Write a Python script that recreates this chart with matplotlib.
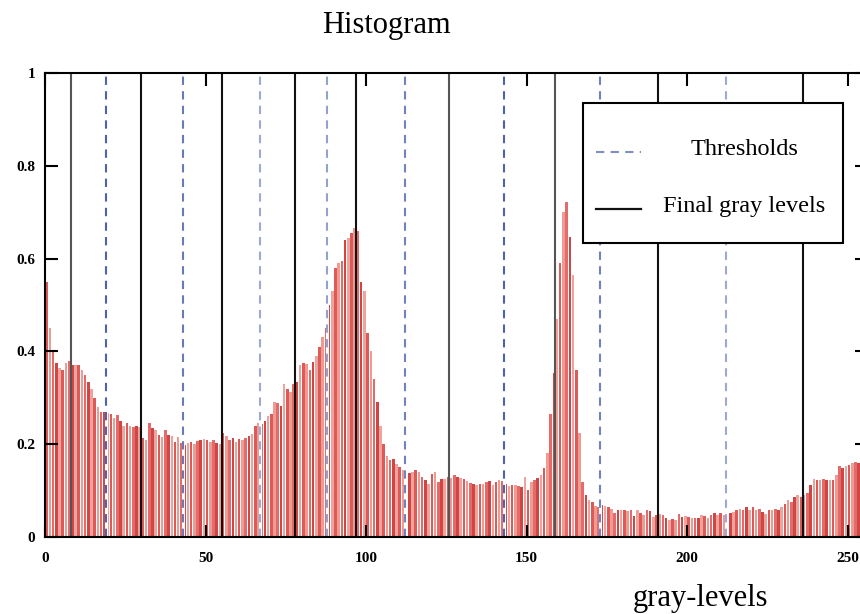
import matplotlib
matplotlib.use("Agg")
import matplotlib.pyplot as plt
from matplotlib.patches import Rectangle
from matplotlib.lines import Line2D
import numpy as np

# ---------------- data ----------------
hist_values = [
    0.55, 0.45, 0.40, 0.375, 0.365, 0.36, 0.375, 0.38, 0.37, 0.37,
    0.37, 0.36, 0.35, 0.335, 0.32, 0.30, 0.28, 0.27, 0.27, 0.268,
    0.265, 0.256, 0.262, 0.25, 0.24, 0.245, 0.24, 0.238, 0.24, 0.236,
    0.213, 0.21, 0.245, 0.234, 0.23, 0.22, 0.216, 0.23, 0.22, 0.217,
    0.205, 0.216, 0.202, 0.198, 0.203, 0.205, 0.20, 0.206, 0.209, 0.212,
    0.208, 0.205, 0.208, 0.203, 0.20, 0.224, 0.217, 0.21, 0.213, 0.204,
    0.212, 0.208, 0.213, 0.217, 0.222, 0.24, 0.245, 0.244, 0.25, 0.26,
    0.265, 0.29, 0.288, 0.283, 0.33, 0.32, 0.312, 0.33, 0.335, 0.37,
    0.375, 0.372, 0.36, 0.378, 0.39, 0.41, 0.43, 0.45, 0.50, 0.53,
    0.58, 0.59, 0.595, 0.64, 0.645, 0.655, 0.665, 0.66, 0.55, 0.53,
    0.44, 0.40, 0.34, 0.29, 0.24, 0.20, 0.175, 0.165, 0.168, 0.158,
    0.15, 0.145, 0.134, 0.138, 0.141, 0.144, 0.14, 0.13, 0.123, 0.115,
    0.135, 0.141, 0.119, 0.124, 0.126, 0.13, 0.128, 0.134, 0.13, 0.127,
    0.124, 0.12, 0.116, 0.114, 0.112, 0.114, 0.114, 0.118, 0.12, 0.113,
    0.118, 0.123, 0.12, 0.115, 0.11, 0.112, 0.113, 0.11, 0.108, 0.13,
    0.102, 0.119, 0.123, 0.128, 0.134, 0.148, 0.18, 0.265, 0.353, 0.47,
    0.59, 0.70, 0.722, 0.647, 0.565, 0.36, 0.225, 0.118, 0.09, 0.08,
    0.075, 0.066, 0.065, 0.068, 0.066, 0.064, 0.06, 0.052, 0.058, 0.059,
    0.058, 0.055, 0.058, 0.046, 0.058, 0.051, 0.048, 0.058, 0.055, 0.044,
    0.047, 0.05, 0.047, 0.04, 0.037, 0.038, 0.037, 0.05, 0.044, 0.045,
    0.044, 0.042, 0.042, 0.04, 0.047, 0.045, 0.04, 0.047, 0.051, 0.047,
    0.051, 0.047, 0.05, 0.051, 0.054, 0.058, 0.061, 0.058, 0.065, 0.058,
    0.065, 0.058, 0.061, 0.054, 0.05, 0.058, 0.058, 0.061, 0.058, 0.065,
    0.072, 0.08, 0.076, 0.087, 0.09, 0.087, 0.09, 0.094, 0.112, 0.126,
    0.122, 0.123, 0.124, 0.123, 0.122, 0.123, 0.134, 0.152, 0.148, 0.152,
    0.155, 0.159, 0.162, 0.16, 0.165, 0.168,
]
gray_levels = list(range(len(hist_values)))

thresholds = [19, 43, 67, 88, 112, 143, 173, 212]
final_levels = [8, 30, 55, 78, 97, 126, 159, 191, 236]

x_ticks = [0, 50, 100, 150, 200, 250]
x_tick_labels = ["0", "50", "100", "150", "200", "250"]
y_ticks = [0, 0.2, 0.4, 0.6, 0.8, 1.0]
y_tick_labels = ["0", "0.2", "0.4", "0.6", "0.8", "1"]

title_text = "Histogram"
xlabel_text = "gray-levels"
legend_labels = ["Thresholds", "Final gray levels"]

# ---------------- style ----------------
SERIF = ["Liberation Serif", "DejaVu Serif"]
bar_shades = ["#dc5a58", "#f09a94", "#e36c6a", "#cf4644", "#eea39c"]
thr_alpha = [1.0, 0.85, 0.55, 0.6, 0.8, 1.0, 0.8, 0.55]
lvl_color = ["#555555", "#111111", "#111111", "#111111", "#111111",
             "#555555", "#555555", "#111111", "#111111"]

fig = plt.figure(figsize=(8.6, 6.14), dpi=100)
ax_w = 256 * 3.21 / 860
ax = fig.add_axes([45 / 860, 77 / 614, ax_w, 464 / 614])
ax.set_axisbelow(False)

colors = [bar_shades[i % len(bar_shades)] for i in range(len(hist_values))]
ax.bar(np.array(gray_levels) + 0.5, hist_values, width=0.8,
       color=colors, linewidth=0, zorder=2)

for t, a in zip(thresholds, thr_alpha):
    ax.axvline(t, color="white", lw=2.2, zorder=3)
    ax.axvline(t, color="#4f63ad", lw=1.5, ls=(0, (4, 3)), alpha=a, zorder=4)
for g, c in zip(final_levels, lvl_color):
    ax.axvline(g, color=c, lw=1.5, zorder=4)

ax.set_xlim(0, 256)
ax.set_ylim(0, 1)
ax.set_xticks(x_ticks)
ax.set_xticklabels(x_tick_labels)
ax.set_yticks(y_ticks)
ax.set_yticklabels(y_tick_labels)
ax.tick_params(axis="both", direction="in", length=9, width=1.5,
               top=True, right=True, labelsize=11, colors="black")
ax.tick_params(axis="y", pad=7)
ax.tick_params(axis="x", pad=11)
for lab in ax.get_xticklabels() + ax.get_yticklabels():
    lab.set_family(SERIF)
    lab.set_fontweight("bold")
for s in ax.spines.values():
    s.set_linewidth(1.5)
    s.set_color("black")
    s.set_zorder(6)

# legend box (manual, to centre the labels like the original)
ax.add_patch(Rectangle((0.6547, 0.6336), 0.3163, 0.3014, transform=ax.transAxes,
                       facecolor="white", edgecolor="black", lw=1.5, zorder=8))
ax.add_line(Line2D([0.6706, 0.7253], [0.83, 0.83], transform=ax.transAxes,
                   color="#7f90c8", lw=1.5, ls=(0, (4, 3)), zorder=9))
ax.add_line(Line2D([0.6706, 0.7253], [0.707, 0.707], transform=ax.transAxes,
                   color="#111111", lw=1.6, zorder=9))
ax.text(0.8507, 0.835, legend_labels[0], transform=ax.transAxes, ha="center",
        va="center", fontsize=17.5, family=SERIF, zorder=9)
ax.text(0.8507, 0.712, legend_labels[1], transform=ax.transAxes, ha="center",
        va="center", fontsize=17.5, family=SERIF, zorder=9)

fig.text(386 / 860, 1 - 26 / 614, title_text, ha="center", va="center",
         fontsize=22, family=SERIF)
fig.text(700 / 860, 1 - 606 / 614, xlabel_text, ha="center", va="baseline",
         fontsize=22, family=SERIF)

fig.savefig("out.png", dpi=100)
